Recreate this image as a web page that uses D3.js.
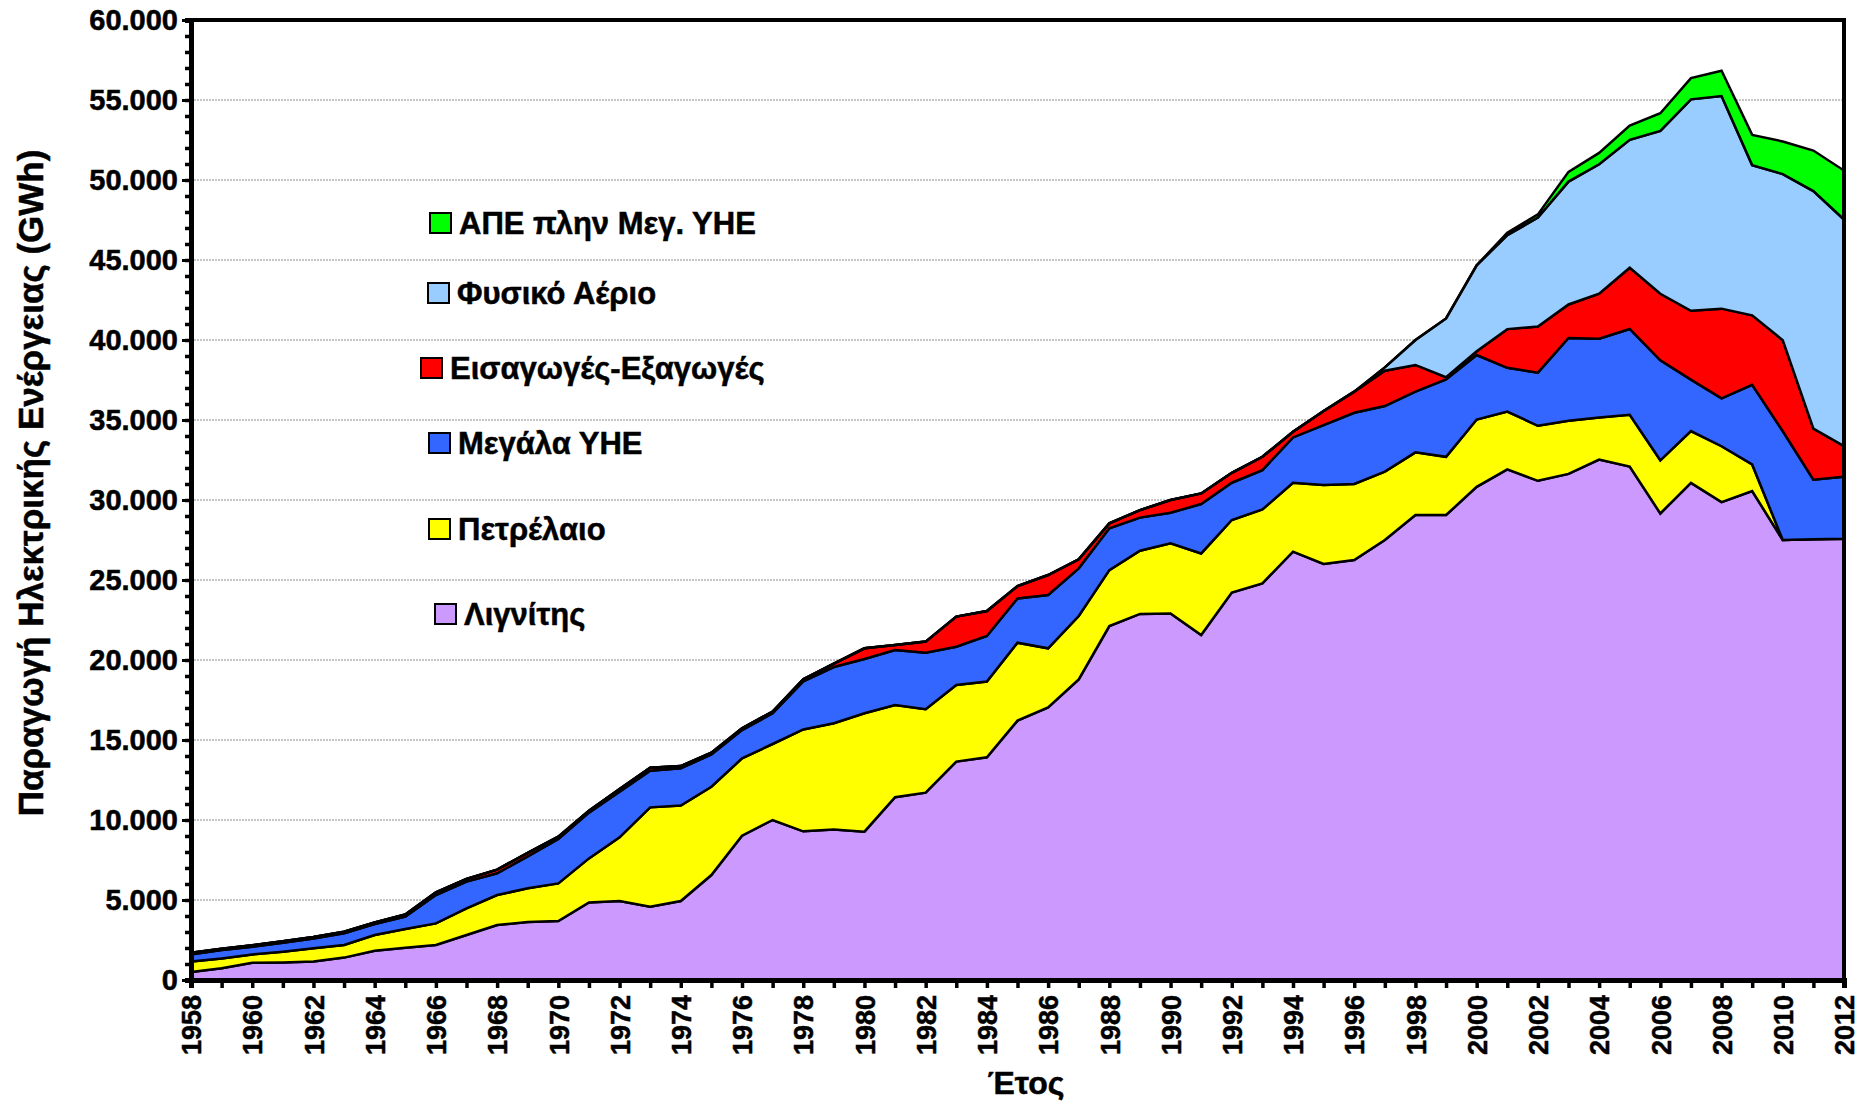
<!DOCTYPE html>
<html>
<head>
<meta charset="utf-8">
<script src="https://d3js.org/d3.v7.min.js"></script>
<style>
  body { margin: 0; background: #fff; }
  svg text { font-family: "Liberation Sans", Arial, sans-serif; font-weight: bold; fill: #000;
             stroke: #000; stroke-width: 0.5px; }
  .grid line { stroke: #8c8c8c; stroke-width: 1px; stroke-dasharray: 2,1; }
  .layer { stroke: #000; stroke-width: 2.5px; stroke-linejoin: miter; }
  .axis path, .axis line { stroke: #000; }
</style>
</head>
<body>
<svg id="chart" width="1858" height="1104"></svg>
<script>
// yearly production, GWh
const years = d3.range(1958, 2013);
const lignite = [500, 730, 1080, 1100, 1150, 1400, 1830, 2020, 2190, 2810,
  3440, 3620, 3690, 4850, 4940, 4580, 4940, 6560, 9020, 10000,
  9290, 9400, 9270, 11420, 11710, 13650, 13920, 16210, 17040, 18790,
  22120, 22880, 22910, 21560, 24210, 24790, 26770, 26000, 26250, 27500,
  29060, 29060, 30820, 31910, 31200, 31630, 32530, 32090, 29160, 31070,
  29870, 30560, 27500, 27550, 27580];
const oil = [650, 620, 520, 670, 830, 790, 980, 1170, 1350, 1670,
  1870, 2110, 2350, 2750, 3980, 6210, 5960, 5520, 4830, 4750,
  6370, 6650, 7400, 5770, 5210, 4790, 4730, 4870, 3690, 3960,
  3500, 3950, 4380, 5100, 4540, 4620, 4310, 4930, 4750, 4270,
  3920, 3640, 4210, 3620, 3440, 3320, 2630, 3240, 3320, 3240,
  3490, 1660, 0, 0, 0];
const hydro = [450, 525, 480, 560, 620, 730, 690, 770, 1770, 1670,
  1360, 2000, 2770, 2860, 2850, 2290, 2330, 2020, 1770, 1920,
  3000, 3510, 3390, 3430, 3540, 2390, 2850, 2770, 3330, 2980,
  2610, 2070, 1910, 3090, 2330, 2460, 2830, 3750, 4450, 4100,
  3790, 4840, 4030, 2730, 3320, 5180, 4920, 5360, 6250, 3210,
  2990, 4980, 6800, 3720, 3880];
const imports = [100, 85, 90, 90, 90, 100, 100, 140, 170, 160,
  230, 220, 150, 120, 170, 190, 140, 110, 110, 110,
  130, 220, 670, 320, 690, 1880, 1560, 770, 1250, 560,
  310, 470, 800, 660, 620, 830, 360, 880, 1320, 2210,
  1670, 130, 240, 2420, 2880, 2090, 2810, 3830, 4160, 4310,
  5610, 4340, 5690, 3190, 1910];
const gas = [0, 0, 0, 0, 0, 0, 0, 0, 0, 0,
  0, 0, 0, 0, 0, 0, 0, 0, 0, 0,
  0, 0, 0, 0, 0, 0, 0, 0, 0, 0,
  0, 0, 0, 0, 0, 0, 0, 0, 0, 210,
  1560, 3680, 5370, 5870, 6810, 7680, 8090, 7990, 10180, 13210,
  13290, 9390, 10380, 14850, 14160];
const renewables = [0, 0, 0, 0, 0, 0, 0, 0, 0, 0,
  0, 0, 0, 0, 0, 0, 0, 0, 0, 0,
  0, 0, 0, 0, 0, 0, 0, 0, 0, 0,
  0, 0, 0, 0, 0, 0, 0, 0, 0, 0,
  0, 0, 0, 150, 200, 610, 715, 890, 1100, 1330,
  1580, 1890, 2040, 2530, 3060];

const seriesNames = ["Λιγνίτης", "Πετρέλαιο", "Μεγάλα ΥΗΕ", "Εισαγωγές-Εξαγωγές", "Φυσικό Αέριο", "ΑΠΕ πλην Μεγ. ΥΗΕ"];
const seriesValues = [lignite, oil, hydro, imports, gas, renewables];
const seriesColors = ["#cc99ff", "#ffff00", "#3366ff", "#ff0000", "#99ccff", "#00ff00"];
const yTicks = [0, 5000, 10000, 15000, 20000, 25000, 30000, 35000, 40000, 45000, 50000, 55000, 60000];

const svg = d3.select("#chart");
const x = d3.scaleLinear().domain([1958, 2012]).range([191, 1844]);
const y = d3.scaleLinear().domain([0, 60000]).range([980, 20]);

const table = years.map((yr, i) => {
  const row = { year: yr };
  seriesNames.forEach((n, j) => row[n] = seriesValues[j][i]);
  return row;
});
const stacked = d3.stack().keys(seriesNames)(table);

// gridlines
svg.append("g").attr("class", "grid")
  .selectAll("line").data(yTicks.filter(d => d > 0 && d < 60000))
  .join("line")
  .attr("x1", x(1958)).attr("x2", x(2012))
  .attr("y1", d => y(d)).attr("y2", d => y(d));

// stacked areas
const area = d3.area()
  .x(d => x(d.data.year))
  .y0(d => y(d[0]))
  .y1(d => y(d[1]));

svg.append("g").selectAll("path")
  .data(stacked)
  .join("path")
  .attr("class", "layer")
  .attr("fill", (d, i) => seriesColors[i])
  .attr("d", area);

// frame
svg.append("rect")
  .attr("x", x(1958)).attr("y", y(60000))
  .attr("width", x(2012) - x(1958)).attr("height", y(0) - y(60000))
  .attr("fill", "none").attr("stroke", "#000").attr("stroke-width", 4);

// y axis
const fmt = d => d3.format(",")(d).replace(/,/g, ".");
svg.append("g").attr("class", "axis")
  .attr("transform", `translate(${x(1958)},0)`)
  .call(d3.axisLeft(y).tickValues(d3.range(0, 60001, 1000)).tickSize(6).tickFormat(""))
  .call(g => g.selectAll(".tick line").attr("stroke-width", 3.5))
  .call(g => g.select(".domain").attr("stroke-width", 5));

svg.append("g").attr("class", "axis")
  .attr("transform", `translate(${x(1958)},0)`)
  .call(d3.axisLeft(y).tickValues(yTicks).tickSize(9).tickPadding(4).tickFormat(fmt))
  .call(g => g.select(".domain").remove())
  .call(g => g.selectAll(".tick line").attr("stroke-width", 3))
  .call(g => g.selectAll("text").style("font-size", "29px"));

// x axis
svg.append("g").attr("class", "axis")
  .attr("transform", `translate(0,${y(0)})`)
  .call(d3.axisBottom(x).tickValues(years).tickSize(8).tickFormat(d => d % 2 === 0 ? d : ""))
  .call(g => g.select(".domain").attr("stroke-width", 5))
  .call(g => g.selectAll(".tick line").attr("stroke-width", 3.5))
  .call(g => g.selectAll("text")
    .style("font-size", "27px")
    .attr("transform", "rotate(-90)")
    .attr("x", -15).attr("y", 0).attr("dy", "0.36em")
    .attr("text-anchor", "end"));

// axis titles
svg.append("text")
  .attr("transform", "translate(30,483) rotate(-90)")
  .attr("text-anchor", "middle").attr("dy", "0.36em")
  .style("font-size", "35px")
  .text("Παραγωγή Ηλεκτρικής Ενέργειας  (GWh)");

svg.append("text")
  .attr("x", 1026).attr("y", 1094)
  .attr("text-anchor", "middle")
  .style("font-size", "32px")
  .text("Έτος");

// legend (top entry first, as in the original)
const legendPos = [
  { sx: 435, cy: 614 },
  { sx: 429, cy: 529 },
  { sx: 429, cy: 443 },
  { sx: 421, cy: 368 },
  { sx: 428, cy: 293 },
  { sx: 430, cy: 223 }
];
const legend = svg.append("g");
seriesNames.forEach((n, i) => {
  const p = legendPos[i];
  legend.append("rect")
    .attr("x", p.sx).attr("y", p.cy - 10)
    .attr("width", 21).attr("height", 20)
    .attr("fill", seriesColors[i]).attr("stroke", "#000").attr("stroke-width", 2);
  legend.append("text")
    .attr("x", p.sx + 29).attr("y", p.cy).attr("dy", "0.36em")
    .style("font-size", "31px")
    .text(n);
});
</script>
</body>
</html>
